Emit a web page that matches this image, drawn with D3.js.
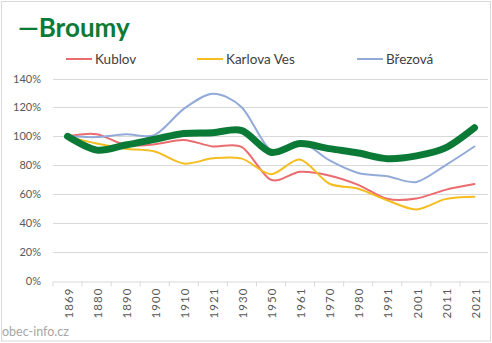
<!DOCTYPE html>
<html><head><meta charset="utf-8">
<script src="https://cdn.jsdelivr.net/npm/d3@7/dist/d3.min.js"></script>
<style>body{margin:0;background:#fff}svg{display:block}</style>
</head><body>
<script>
const years = ["1869","1880","1890","1900","1910","1921","1930","1950","1961","1970","1980","1991","2001","2011","2021"];
const broumy   = [100, 90.5, 94, 98, 102, 102.5, 104, 89, 95, 91.5, 88.5, 84.6, 86.5, 92, 106];
const kublov   = [100, 101.5, 94, 94.5, 97.5, 93, 92.5, 70, 75.5, 73, 66.5, 56.8, 57, 63, 67];
const karlova  = [100, 95, 91.5, 89.5, 81.2, 84.8, 84.6, 73.8, 84, 67.4, 63.8, 55.8, 49.5, 56.6, 58.2];
const brezova  = [100, 99.5, 101.5, 101, 119, 129.5, 120, 90.3, 96.5, 83.5, 74.7, 72.4, 68.5, 80, 93];
const yTicks = [0, 20, 40, 60, 80, 100, 120, 140];

const W = 492, H = 343;
const svg = d3.select("body").append("svg").attr("width", W).attr("height", H);
const font = "Lato, 'Open Sans', sans-serif";

svg.append("rect").attr("x", 1.5).attr("y", 1.5).attr("width", 489).attr("height", 339.5)
  .attr("fill", "#fff").attr("stroke", "#d9d9d9");

const x = d3.scaleBand().domain(years).range([53, 489]);
const y = d3.scaleLinear().domain([0, 140]).range([281, 78.5]);

// gridlines
svg.append("g").selectAll("line").data(yTicks.filter(d => d > 0)).join("line")
  .attr("x1", 53).attr("x2", 488).attr("y1", d => Math.round(y(d)) + 0.5).attr("y2", d => Math.round(y(d)) + 0.5)
  .attr("stroke", "#d9d9d9").attr("stroke-width", 1);

// y axis labels
const yAxis = d3.axisLeft(y).tickValues(yTicks).tickFormat(d => d + "%").tickSize(0).tickPadding(0);
const ga = svg.append("g").attr("transform", "translate(41,0)").call(yAxis);
ga.select(".domain").remove();
ga.selectAll("text").attr("font-family", font).attr("font-size", 11).attr("fill", "#595959");

// x axis
const xAxis = d3.axisBottom(x).tickSize(5).tickSizeOuter(0);
const gx = svg.append("g").attr("transform", "translate(0," + (Math.round(y(0)) + 0.5) + ")").call(xAxis);
gx.select(".domain").attr("stroke", "#d9d9d9");
gx.selectAll(".tick line").attr("stroke", "#d9d9d9")
  .attr("transform", d => "translate(" + (-x.bandwidth() / 2) + ",0)");
gx.selectAll(".tick text").attr("font-family", font).attr("font-size", 11.5).attr("fill", "#595959")
  .attr("letter-spacing", "1.1px")
  .attr("transform", "rotate(-90)").attr("text-anchor", "end").attr("dy", "0.45em").attr("dx", "-6").attr("y", 0).attr("x", 0);

const line = d3.line().x((d, i) => x(years[i]) + x.bandwidth() / 2).y(d => y(d)).curve(d3.curveCardinal.tension(0.1));

const series = [
  {name: "Kublov", data: kublov, color: "#EB6C6E", w: 2},
  {name: "Karlova Ves", data: karlova, color: "#F5BD1F", w: 2},
  {name: "Březová", data: brezova, color: "#92AAD8", w: 2},
];
series.forEach(s => {
  svg.append("path").attr("d", line(s.data)).attr("fill", "none").attr("stroke", s.color)
    .attr("stroke-width", s.w).attr("stroke-linecap", "round").attr("stroke-linejoin", "round");
});
svg.append("path").attr("d", line(broumy)).attr("fill", "none").attr("stroke", "#0B7A36")
  .attr("stroke-width", 7).attr("stroke-linecap", "round").attr("stroke-linejoin", "round");

// legend
const legX = [66, 197, 357];
series.forEach((s, i) => {
  svg.append("line").attr("x1", legX[i]).attr("x2", legX[i] + 26).attr("y1", 59).attr("y2", 59)
    .attr("stroke", s.color).attr("stroke-width", 2);
  svg.append("text").attr("x", legX[i] + 29).attr("y", 64).text(s.name)
    .attr("font-family", font).attr("font-size", 13.5).attr("fill", "#404040");
});

// title
svg.append("text").attr("x", 18).attr("y", 36.5).text("—Broumy")
  .attr("font-family", font).attr("font-weight", "bold").attr("font-size", 26).attr("fill", "#0B7A36");

// source
svg.append("text").attr("x", 2).attr("y", 336).text("obec-info.cz")
  .attr("font-family", font).attr("font-size", 12.5).attr("fill", "#a6a6a6");
</script>
</body></html>
